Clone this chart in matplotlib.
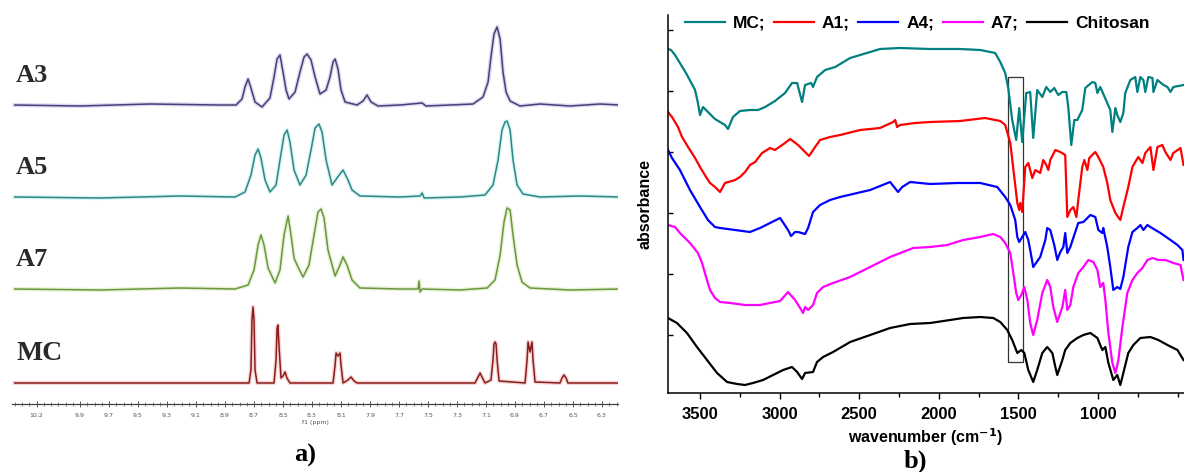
import matplotlib
matplotlib.use("Agg")
import matplotlib.pyplot as plt
from matplotlib.ticker import MultipleLocator
from matplotlib.patches import Rectangle

plt.rcParams["axes.unicode_minus"] = False

# ---------------- a) 1H NMR spectra (ppm, relative intensity) ----------------
a3_ppm = [10.35, 9.90, 9.42, 8.935, 8.824, 8.783, 8.762, 8.741, 8.721, 8.693, 8.645, 8.590,
          8.562, 8.541, 8.521, 8.500, 8.479, 8.459, 8.417, 8.383, 8.355, 8.334, 8.307, 8.279,
          8.245, 8.203, 8.176, 8.155, 8.141, 8.121, 8.100, 8.072, 7.990, 7.948, 7.921, 7.893,
          7.845, 7.693, 7.541, 7.514, 7.348, 7.190, 7.121, 7.086, 7.066, 7.045, 7.024, 7.003,
          6.983, 6.962, 6.934, 6.866, 6.728, 6.521, 6.314, 6.176]
a3_int = [0.00, -0.01, 0.01, 0.00, 0.00, 0.06, 0.18, 0.26, 0.17, 0.03, -0.02, 0.07,
          0.28, 0.46, 0.50, 0.33, 0.15, 0.06, 0.13, 0.33, 0.48, 0.51, 0.45, 0.28,
          0.11, 0.15, 0.28, 0.43, 0.46, 0.36, 0.15, 0.03, 0.00, 0.04, 0.10, 0.03,
          -0.01, 0.00, 0.02, -0.01, 0.00, 0.01, 0.08, 0.23, 0.48, 0.71, 0.78, 0.66,
          0.33, 0.13, 0.04, -0.01, 0.01, -0.01, 0.01, 0.00]

a5_ppm = [10.35, 9.76, 9.21, 8.831, 8.762, 8.721, 8.693, 8.672, 8.652, 8.624, 8.590, 8.548,
          8.521, 8.493, 8.472, 8.452, 8.424, 8.383, 8.341, 8.307, 8.279, 8.252, 8.231, 8.203,
          8.162, 8.128, 8.086, 8.052, 8.024, 7.969, 7.693, 7.555, 7.541, 7.527, 7.279, 7.107,
          7.052, 7.017, 6.990, 6.969, 6.955, 6.934, 6.914, 6.886, 6.845, 6.728, 6.452, 6.176]
a5_int = [0.00, -0.01, 0.01, 0.00, 0.05, 0.22, 0.42, 0.48, 0.39, 0.17, 0.05, 0.12,
          0.37, 0.62, 0.67, 0.55, 0.27, 0.12, 0.22, 0.47, 0.69, 0.73, 0.65, 0.37,
          0.12, 0.19, 0.27, 0.17, 0.07, 0.01, 0.00, 0.01, 0.04, -0.01, 0.00, 0.02,
          0.12, 0.37, 0.67, 0.75, 0.76, 0.67, 0.37, 0.12, 0.03, 0.00, 0.01, 0.00]

a7_ppm = [10.35, 9.76, 9.21, 8.831, 8.741, 8.700, 8.672, 8.652, 8.631, 8.603, 8.555, 8.521,
          8.493, 8.465, 8.445, 8.424, 8.403, 8.362, 8.321, 8.286, 8.259, 8.238, 8.217, 8.190,
          8.141, 8.107, 8.086, 8.059, 8.024, 7.969, 7.693, 7.569, 7.562, 7.555, 7.541, 7.279,
          7.093, 7.038, 7.003, 6.976, 6.955, 6.934, 6.914, 6.886, 6.852, 6.797, 6.521, 6.176]
a7_int = [0.00, -0.01, 0.01, 0.00, 0.04, 0.19, 0.44, 0.54, 0.44, 0.21, 0.06, 0.19,
          0.54, 0.73, 0.54, 0.31, 0.24, 0.12, 0.24, 0.54, 0.77, 0.80, 0.71, 0.39,
          0.13, 0.24, 0.32, 0.24, 0.09, 0.01, 0.00, 0.00, 0.08, -0.03, 0.00, -0.01,
          0.01, 0.09, 0.34, 0.67, 0.81, 0.79, 0.54, 0.24, 0.07, 0.01, -0.01, 0.00]

mc_nmr_ppm = [10.35, 9.07, 8.734, 8.721, 8.714, 8.707, 8.700, 8.693, 8.679, 8.562, 8.548, 8.541,
              8.535, 8.528, 8.514, 8.500, 8.486, 8.473, 8.452, 8.155, 8.141, 8.134, 8.121, 8.107,
              8.100, 8.086, 8.052, 8.031, 8.010, 7.990, 7.176, 7.155, 7.141, 7.128, 7.107, 7.066,
              7.052, 7.045, 7.038, 7.031, 7.024, 7.010, 6.831, 6.817, 6.810, 6.797, 6.783, 6.776,
              6.762, 6.590, 6.576, 6.562, 6.548, 6.535, 6.176]
mc_nmr_int = [0.00, 0.00, 0.00, 0.13, 0.63, 0.76, 0.63, 0.13, 0.00, 0.00, 0.23, 0.55,
              0.58, 0.38, 0.05, 0.07, 0.11, 0.05, 0.00, 0.00, 0.18, 0.30, 0.27, 0.30,
              0.18, 0.00, 0.03, 0.06, 0.02, 0.00, 0.00, 0.06, 0.10, 0.06, 0.00, 0.03,
              0.23, 0.39, 0.41, 0.39, 0.23, 0.02, 0.00, 0.23, 0.41, 0.31, 0.41, 0.23,
              0.01, 0.00, 0.05, 0.08, 0.05, 0.00, 0.00]

nmr_names = ["A3", "A5", "A7", "MC"]
nmr_ticks = [10.2, 9.9, 9.7, 9.5, 9.3, 9.1, 8.9, 8.7, 8.5, 8.3, 8.1, 7.9, 7.7, 7.5, 7.3,
             7.1, 6.9, 6.7, 6.5, 6.3]

# ---------------- b) FTIR spectra (wavenumber, absorbance a.u.) ----------------
mc_wn = [3701, 3682, 3657, 3588, 3531, 3513, 3500, 3481, 3450, 3406, 3343, 3324, 3293, 3249,
         3186, 3135, 3091, 3029, 2966, 2922, 2890, 2859, 2840, 2802, 2790, 2765, 2714, 2651,
         2557, 2431, 2369, 2243, 2054, 1866, 1740, 1646, 1614, 1583, 1564, 1539, 1514, 1495,
         1476, 1451, 1426, 1407, 1382, 1350, 1325, 1300, 1275, 1250, 1224, 1199, 1187, 1168,
         1149, 1130, 1099, 1080, 1036, 1017, 1004, 986, 942, 923, 910, 891, 879, 860, 841,
         829, 797, 766, 753, 734, 715, 703, 684, 658, 652, 627, 589, 564, 545, 527, 463]
mc_abs = [3.51, 3.50, 3.45, 3.27, 3.10, 2.97, 2.85, 2.93, 2.88, 2.81, 2.75, 2.71, 2.83, 2.89,
          2.90, 2.90, 2.93, 2.99, 3.07, 3.17, 3.17, 2.98, 3.15, 3.17, 3.13, 3.23, 3.30, 3.33,
          3.42, 3.48, 3.51, 3.52, 3.51, 3.51, 3.50, 3.47, 3.38, 3.27, 3.12, 2.80, 2.60, 2.92,
          2.58, 3.07, 3.08, 2.62, 3.10, 3.03, 3.13, 3.08, 3.12, 3.05, 3.08, 3.08, 2.93, 2.55,
          2.80, 2.80, 2.90, 3.12, 3.18, 3.17, 3.07, 3.13, 2.97, 2.90, 2.68, 2.92, 2.85, 2.78, 2.87,
          3.07, 3.20, 3.23, 3.08, 3.23, 3.20, 3.08, 3.23, 3.22, 3.08, 3.20, 3.15, 3.13, 3.08, 3.13, 3.15]

a1_wn = [3701, 3676, 3638, 3613, 3575, 3531, 3500, 3462, 3437, 3406, 3374, 3343, 3280, 3249,
         3217, 3186, 3154, 3110, 3060, 3029, 2966, 2934, 2884, 2840, 2815, 2777, 2746, 2683,
         2620, 2494, 2369, 2287, 2274, 2262, 2243, 2149, 2054, 1866, 1709, 1646, 1614, 1583,
         1551, 1526, 1507, 1495, 1488, 1476, 1457, 1438, 1413, 1394, 1363, 1344, 1325, 1312,
         1300, 1268, 1237, 1206, 1193, 1174, 1155, 1136, 1124, 1099, 1086, 1067, 1055, 1017,
         998, 967, 942, 923, 891, 860, 841, 810, 784, 766, 747, 721, 703, 671, 652, 627, 596,
         577, 545, 527, 482, 463]
a1_abs = [2.88, 2.83, 2.73, 2.63, 2.53, 2.42, 2.33, 2.23, 2.17, 2.13, 2.08, 2.17, 2.20, 2.23,
          2.28, 2.35, 2.38, 2.47, 2.52, 2.50, 2.57, 2.61, 2.55, 2.48, 2.44, 2.53, 2.60, 2.63,
          2.65, 2.70, 2.72, 2.78, 2.80, 2.73, 2.75, 2.77, 2.78, 2.79, 2.82, 2.80, 2.79, 2.75,
          2.57, 2.23, 1.97, 1.90, 1.97, 1.88, 2.33, 2.37, 2.22, 2.30, 2.27, 2.40, 2.35, 2.30,
          2.40, 2.50, 2.48, 2.45, 1.83, 1.90, 1.93, 1.83, 2.00, 2.33, 2.40, 2.30, 2.42, 2.48,
          2.43, 2.33, 2.17, 2.00, 1.87, 1.80, 1.93, 2.13, 2.33, 2.38, 2.43, 2.37, 2.47, 2.53, 2.30,
          2.53, 2.55, 2.48, 2.40, 2.47, 2.52, 2.35]

a4_wn = [3701, 3676, 3626, 3563, 3500, 3450, 3406, 3374, 3280, 3186, 3123, 3060, 2997, 2947,
         2928, 2903, 2884, 2840, 2821, 2790, 2746, 2683, 2620, 2431, 2306, 2256, 2230, 2180,
         2054, 1884, 1740, 1633, 1583, 1551, 1520, 1507, 1495, 1476, 1457, 1438, 1426, 1407,
         1363, 1331, 1319, 1300, 1275, 1256, 1237, 1218, 1206, 1193, 1174, 1143, 1124, 1092,
         1048, 1017, 998, 973, 967, 942, 923, 904, 879, 860, 841, 810, 784, 753, 734, 715, 690,
         671, 640, 608, 545, 501, 470, 463]
a4_abs = [2.50, 2.42, 2.30, 2.10, 1.93, 1.80, 1.73, 1.72, 1.70, 1.68, 1.72, 1.77, 1.82, 1.70,
          1.64, 1.68, 1.68, 1.66, 1.72, 1.88, 1.95, 2.00, 2.03, 2.10, 2.18, 2.08, 2.13, 2.18,
          2.16, 2.17, 2.17, 2.13, 2.03, 1.95, 1.80, 1.63, 1.58, 1.63, 1.68, 1.60, 1.50, 1.33,
          1.43, 1.60, 1.72, 1.70, 1.55, 1.40, 1.48, 1.53, 1.67, 1.47, 1.53, 1.68, 1.77, 1.78,
          1.85, 1.83, 1.70, 1.67, 1.72, 1.53, 1.33, 1.10, 1.13, 1.11, 1.23, 1.53, 1.68, 1.72, 1.75,
          1.70, 1.75, 1.73, 1.70, 1.67, 1.60, 1.55, 1.50, 1.40]

a7_wn = [3701, 3657, 3626, 3563, 3513, 3487, 3462, 3437, 3406, 3374, 3311, 3217, 3123, 3060,
         2997, 2947, 2903, 2871, 2853, 2840, 2821, 2790, 2765, 2727, 2664, 2557, 2431, 2306,
         2161, 2054, 1947, 1847, 1740, 1658, 1614, 1583, 1551, 1532, 1514, 1501, 1482, 1463,
         1444, 1426, 1407, 1382, 1350, 1319, 1300, 1281, 1256, 1224, 1206, 1193, 1174, 1155,
         1124, 1092, 1061, 1029, 1004, 986, 967, 954, 935, 910, 891, 872, 847, 816, 784, 753,
         721, 690, 658, 621, 577, 527, 482, 463]
a7_abs = [1.75, 1.73, 1.67, 1.57, 1.47, 1.37, 1.23, 1.10, 1.02, 0.98, 0.97, 0.95, 0.95, 0.97,
          0.99, 1.08, 1.00, 0.92, 0.87, 0.93, 0.90, 0.95, 1.07, 1.13, 1.17, 1.23, 1.33, 1.43,
          1.52, 1.53, 1.55, 1.60, 1.63, 1.66, 1.63, 1.57, 1.47, 1.27, 1.07, 1.00, 1.05, 1.13,
          1.00, 0.77, 0.65, 0.80, 1.07, 1.20, 1.13, 0.93, 0.78, 0.93, 1.10, 0.90, 0.95, 1.13,
          1.27, 1.33, 1.40, 1.38, 1.30, 1.13, 1.17, 1.00, 0.67, 0.37, 0.27, 0.40, 0.73, 1.07,
          1.20, 1.27, 1.32, 1.40, 1.42, 1.40, 1.40, 1.37, 1.35, 1.20]

chit_wn = [3701, 3645, 3582, 3519, 3456, 3393, 3330, 3267, 3217, 3167, 3104, 3041, 2978, 2922,
           2890, 2859, 2840, 2790, 2765, 2727, 2664, 2557, 2431, 2306, 2180, 2054, 1929, 1847,
           1740, 1658, 1614, 1570, 1539, 1507, 1482, 1463, 1438, 1407, 1382, 1350, 1319, 1287,
           1268, 1256, 1224, 1206, 1174, 1130, 1092, 1048, 1004, 973, 954, 935, 904, 879, 860,
           841, 810, 778, 734, 671, 621, 564, 501, 463]
chit_abs = [0.82, 0.77, 0.67, 0.53, 0.40, 0.27, 0.18, 0.16, 0.15, 0.17, 0.20, 0.25, 0.30, 0.33,
            0.28, 0.21, 0.27, 0.28, 0.38, 0.43, 0.48, 0.58, 0.65, 0.72, 0.76, 0.77, 0.80, 0.82,
            0.83, 0.82, 0.78, 0.70, 0.60, 0.47, 0.50, 0.47, 0.30, 0.18, 0.30, 0.47, 0.53, 0.47,
            0.33, 0.25, 0.40, 0.50, 0.57, 0.62, 0.65, 0.67, 0.62, 0.50, 0.53, 0.37, 0.20, 0.25,
            0.15, 0.27, 0.47, 0.55, 0.62, 0.63, 0.60, 0.55, 0.50, 0.40]

ftir_names = ["MC;", "A1;", "A4;", "A7;", "Chitosan"]
ftir_colors = ["#008080", "#ff0000", "#0000ff", "#ff00ff", "#000000"]
ftir_ticks = [3500, 3000, 2500, 2000, 1500, 1000]

W, H = 1184, 472
fig = plt.figure(figsize=(W / 100, H / 100), dpi=100)


def fx(px):
    return px / W


def fy(py):
    return 1 - py / H


# ---- panel a ----
ax1 = fig.add_axes([fx(12), fy(404), fx(618) - fx(12), fy(5) - fy(404)])
nmr_data = [(a3_ppm, a3_int), (a5_ppm, a5_int), (a7_ppm, a7_int), (mc_nmr_ppm, mc_nmr_int)]
nmr_offsets = [2.99, 2.07, 1.15, 0.21]
nmr_colors = ["#4b3d78", "#2e8784", "#6d9640", "#8c1c1c"]
nmr_halos = ["#c9bfe6", "#bfeeee", "#d6eab8", "#f0b8b8"]
for (ppm, inten), off, c, hc in zip(nmr_data, nmr_offsets, nmr_colors, nmr_halos):
    y = [v + off for v in inten]
    ax1.plot(ppm, y, color=hc, lw=3.0, alpha=0.6, solid_joinstyle="round")
    ax1.plot(ppm, y, color=c, lw=1.1, solid_joinstyle="round")

label_y = [3.28, 2.36, 1.45, 0.51]
label_size = [19, 19, 19, 20]
for name, ly, fs in zip(nmr_names, label_y, label_size):
    ax1.text(10.34, ly, name, fontsize=fs, fontweight="bold", family="Liberation Serif",
             color="#2a2a2a", ha="left", va="center")

ax1.set_xlim(10.369, 6.19)
ax1.set_ylim(0, 3.99)
ax1.set_xticks(nmr_ticks)
ax1.set_xticklabels([f"{t:.1f}" for t in nmr_ticks])
ax1.xaxis.set_minor_locator(MultipleLocator(0.05))
ax1.tick_params(axis="x", which="major", direction="inout", length=5, width=0.7,
                colors="#555555", labelsize=4.5, pad=4)
ax1.tick_params(axis="x", which="minor", direction="inout", length=3, width=0.5, colors="#555555")
ax1.set_yticks([])
for s in ["top", "right", "left"]:
    ax1.spines[s].set_visible(False)
ax1.spines["bottom"].set_color("#444444")
ax1.spines["bottom"].set_linewidth(0.9)
ax1.set_xlabel("f1 (ppm)", fontsize=4.5, color="#555555", labelpad=1.5)

# ---- panel b ----
ax2 = fig.add_axes([fx(668), fy(393), 1 - fx(668), fy(15) - fy(393)])
ftir_data = [(mc_wn, mc_abs), (a1_wn, a1_abs), (a4_wn, a4_abs), (a7_wn, a7_abs), (chit_wn, chit_abs)]
for (wn, ab), name, c in zip(ftir_data, ftir_names, ftir_colors):
    ax2.plot(wn, ab, color=c, lw=1.6, label=name, solid_joinstyle="round")

# box around the carbonyl region
ax2.add_patch(Rectangle((1564, 0.38), 1470 - 1564, 3.23 - 0.38, fill=False,
                        edgecolor="#333333", lw=0.9))

ax2.set_xlim(3701, 460)
ax2.set_ylim(0.07, 3.85)
ax2.set_xticks(ftir_ticks)
ax2.xaxis.set_minor_locator(MultipleLocator(250))
ax2.set_yticks([3.70, 3.09, 2.48, 1.87, 1.26, 0.65])
ax2.set_yticklabels([])
ax2.tick_params(axis="x", which="major", direction="out", length=4, width=1, labelsize=12, pad=6)
ax2.tick_params(axis="x", which="minor", direction="out", length=3, width=1)
ax2.tick_params(axis="y", direction="in", length=3.5, width=1)
for lab in ax2.get_xticklabels():
    lab.set_fontweight("bold")
    lab.set_family("Liberation Sans")
ax2.spines["top"].set_visible(False)
ax2.spines["right"].set_visible(False)
ax2.spines["left"].set_linewidth(1.1)
ax2.spines["bottom"].set_linewidth(1.1)
ax2.set_xlabel(r"wavenumber (cm$^{\mathbf{-1}}$)", fontsize=11.5, fontweight="bold",
               family="Liberation Sans", labelpad=3)
ax2.set_ylabel("absorbance", fontsize=11.5, fontweight="bold", family="Liberation Sans",
               labelpad=8)

ax2.legend(loc="center left", bbox_to_anchor=(fx(685), fy(23)), bbox_transform=fig.transFigure,
           ncol=5, frameon=False, borderpad=0, borderaxespad=0, handlelength=2.3,
           handletextpad=0.45, columnspacing=0.5,
           prop={"family": "Liberation Sans", "weight": "bold", "size": 12.5})

fig.text(fx(305), fy(455), "a)", fontsize=19, fontweight="bold", family="Liberation Serif",
         ha="center", va="center")
fig.text(fx(915), fy(461), "b)", fontsize=19, fontweight="bold", family="Liberation Serif",
         ha="center", va="center")

fig.savefig("out.png", dpi=100)
